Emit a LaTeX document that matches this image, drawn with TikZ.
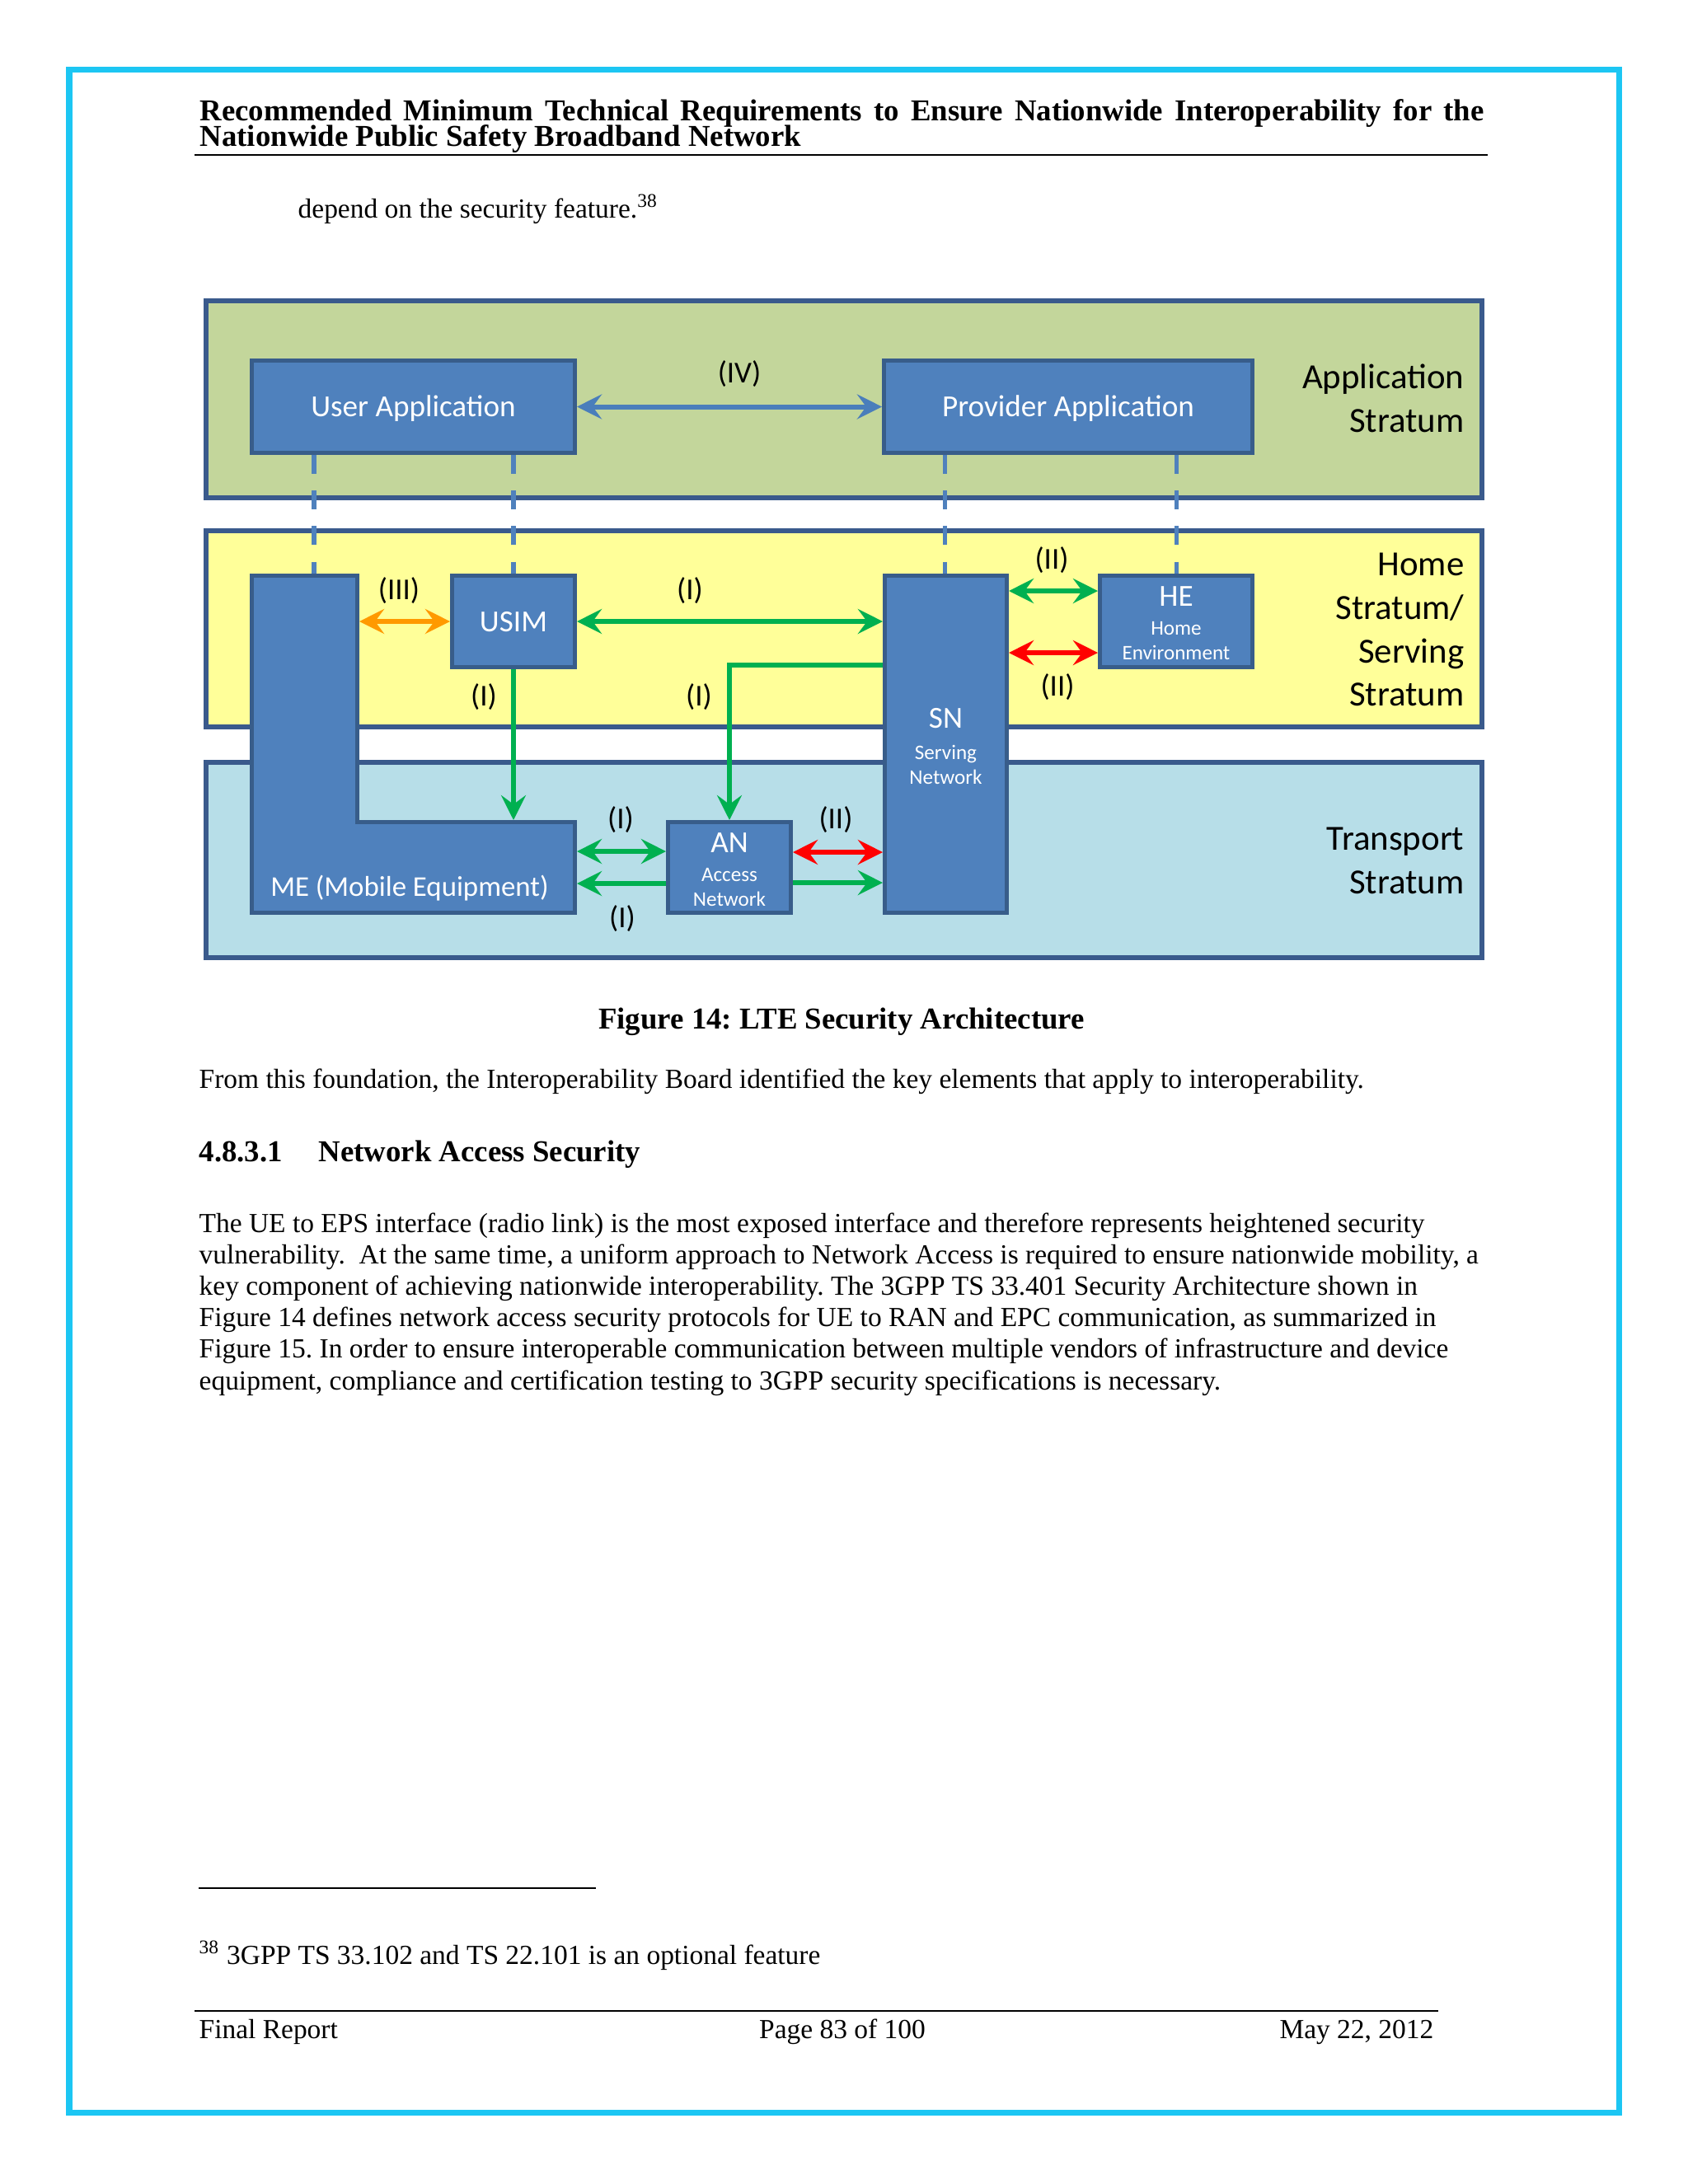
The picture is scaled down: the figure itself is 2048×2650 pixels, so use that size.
\documentclass[tikz,border=0pt]{standalone}
\usepackage{fontspec}
\setmainfont{Liberation Serif}
\newfontfamily\calib{Carlito}
\usetikzlibrary{arrows.meta,fit,calc}
\definecolor{boxfill}{HTML}{4F81BD}
\definecolor{boxborder}{HTML}{385D8A}
\definecolor{panelborder}{HTML}{3A5A8C}
\definecolor{appfill}{HTML}{C3D69B}
\definecolor{homefill}{HTML}{FFFF99}
\definecolor{transfill}{HTML}{B7DEE8}
\definecolor{arrgreen}{HTML}{00B050}
\definecolor{arrred}{HTML}{FF0000}
\definecolor{arrorange}{HTML}{FF9900}
\definecolor{arrblue}{HTML}{4A7EBB}
\definecolor{dashblue}{HTML}{4F81BD}
\definecolor{framecyan}{HTML}{1CC6F3}
\begin{document}
\frenchspacing
\begin{tikzpicture}[x=0.29883pt,y=-0.29883pt,
  >={Stealth[length=9pt,width=9pt,inset=3.3pt]},
  box/.style={draw=boxborder,fill=boxfill,line width=1.5pt,inner sep=0pt},
  boxtxt/.style={text=white,inner sep=0pt,anchor=base,font=\calib\fontsize{11.1}{13}\selectfont},
  boxsm/.style={text=white,inner sep=0pt,anchor=base,font=\calib\fontsize{7.5}{9}\selectfont},
  panel/.style={draw=panelborder,line width=1.8pt,inner sep=0pt},
  ghost/.style={draw=none,inner sep=0pt,outer sep=0.75pt},
  arr/.style={line width=1.8pt},
  dashln/.style={draw=dashblue,line width=1.5pt,dash pattern=on 6.9pt off 6pt},
  lbl/.style={font=\calib\fontsize{11}{13}\selectfont,text=black,inner sep=0pt},
  strat/.style={font=\calib\fontsize{12.8}{15.8}\selectfont,align=right,inner sep=0pt,anchor=east},
  body/.style={font=\fontsize{10}{12}\selectfont,inner sep=0pt,anchor=base west},
  bodyb/.style={font=\bfseries\fontsize{11}{13}\selectfont,inner sep=0pt,anchor=base west},
  foot/.style={font=\fontsize{10}{12}\selectfont,inner sep=0pt}
]
\path[use as bounding box,fill=white] (0,0) rectangle (2048,2650);
\draw[framecyan,line width=2.1pt] (84,84) rectangle (1964,2563);

% header
\node[bodyb] (h1) at (242,146) {\makebox[465.6pt][s]{Recommended Minimum Technical Requirements to Ensure Nationwide Interoperability for the}};
\node[bodyb] (h2) at (242,177) {Nationwide Public Safety Broadband Network};
\draw[line width=0.8pt] (236,188) -- (1805,188);
\node[body] (dep) at (361,264) {depend on the security feature.\textsuperscript{38}};

% panels
\node[panel,fill=appfill,fit={(250,365) (1798,604)}] (appP) {};
\node[panel,fill=homefill,fit={(250,644) (1798,882)}] (homeP) {};
\node[panel,fill=transfill,fit={(250,925) (1798,1162)}] (transP) {};
\node[strat] (appL) at (1777,483) {Application\\Stratum};
\node[strat] (homeL) at (1777,764) {Home\\Stratum/\\Serving\\Stratum};
\node[strat] (transL) at (1777,1044) {Transport\\Stratum};

% ghost anchors for ME
\node[ghost,fit={(305.5,698.5) (433.5,1107.5)}] (mecol) {};
\node[ghost,fit={(305.5,997.5) (697.5,1107.5)}] (mefoot) {};

% upper boxes
\node[box,fit={(305.5,437.5) (697.5,549.5)}] (ua) {};
\node[box,fit={(1072.5,437.5) (1519.5,549.5)}] (pa) {};
\node[boxtxt] (uat) at (501.5,505) {User Application};
\node[boxtxt] (pat) at (1296,505) {Provider Application};

% dashed lines
\draw[dashln] ($(ua.south)+(-120.5,0)$) coordinate (d1) -- (d1 |- mecol.north);
\draw[dashln] ($(ua.south)+(121.5,0)$) coordinate (d2) -- (d2 |- mecol.north);
\draw[dashln] ($(pa.south)+(-149.5,0)$) coordinate (d3) -- (d3 |- mecol.north);
\draw[dashln] ($(pa.south)+(131,0)$) coordinate (d4) -- (d4 |- mecol.north);

% lower boxes
\draw[draw=boxborder,fill=boxfill,line width=1.5pt,line join=miter]
  (305.5,698.5) -- (433.5,698.5) -- (433.5,997.5) -- (697.5,997.5) -- (697.5,1107.5) -- (305.5,1107.5) -- cycle;
\node[boxtxt,font=\calib\fontsize{10.4}{12.5}\selectfont] (metext) at (497,1087) {ME (Mobile Equipment)};
\node[box,fit={(548.5,698.5) (697.5,809.5)}] (usim) {};
\node[boxtxt] (usimt) at (623,766) {USIM};
\node[box,fit={(1073.5,698.5) (1221.5,1107.5)}] (sn) {};
\node[boxtxt] (sn1) at (1147.5,883) {SN};
\node[boxsm] (sn2) at (1147.5,921) {Serving};
\node[boxsm] (sn3) at (1147.5,951) {Network};
\node[box,fit={(1334.5,698.5) (1519.5,809.5)}] (he) {};
\node[boxtxt] (he1) at (1427,735) {HE};
\node[boxsm] (he2) at (1427,770) {Home};
\node[boxsm] (he3) at (1427,800) {Environment};
\node[box,fit={(810.5,997.5) (959.5,1107.5)}] (an) {};
\node[boxtxt] (an1) at (885,1034) {AN};
\node[boxsm] (an2) at (885,1069) {Access};
\node[boxsm] (an3) at (885,1099) {Network};

% arrows
\draw[arr,arrblue,<->] (ua.east) -- (pa.west);
\draw[arr,arrorange,<->] (usim.west -| mecol.east) -- (usim.west);
\draw[arr,arrgreen,<->] (usim.east) -- (usim.east -| sn.west);
\draw[arr,arrgreen,->] (usim.south) -- (usim.south |- mefoot.north);
\draw[arr,arrgreen,->] ($(sn.west)+(0,-96)$) -| (an.north);
\coordinate (anw1) at ($(an.west)+(0,-19.5)$);
\coordinate (anw2) at ($(an.west)+(0,19.5)$);
\coordinate (ane1) at ($(an.east)+(0,-18.5)$);
\coordinate (ane2) at ($(an.east)+(0,18.5)$);
\draw[arr,arrgreen,<->] (anw1 -| mefoot.east) -- (anw1);
\draw[arr,arrgreen,->] (anw2) -- (anw2 -| mefoot.east);
\draw[arr,arrred,<->] (ane1) -- (ane1 -| sn.west);
\draw[arr,arrgreen,->] (ane2) -- (ane2 -| sn.west);
\coordinate (hew1) at ($(he.west)+(0,-37)$);
\coordinate (hew2) at ($(he.west)+(0,38)$);
\draw[arr,arrgreen,<->] (hew1 -| sn.east) -- (hew1);
\draw[arr,arrred,<->] (hew2 -| sn.east) -- (hew2);

% labels
\node[lbl] (l4) at (897,454) {(IV)};
\node[lbl] (l3) at (484,717) {(III)};
\node[lbl] (la) at (837,717) {(I)};
\node[lbl] (lb) at (587,846) {(I)};
\node[lbl] (lc) at (848,846) {(I)};
\node[lbl] (ld) at (1276,680) {(II)};
\node[lbl] (le) at (1283,834) {(II)};
\node[lbl] (lf) at (753,995) {(I)};
\node[lbl] (lg) at (1014,995) {(II)};
\node[lbl] (lh) at (755,1115) {(I)};

% text below
\node[bodyb,anchor=base] (cap) at (1021,1248) {Figure 14: LTE Security Architecture};
\node[body] (p1) at (241,1320) {From this foundation, the Interoperability Board identified the key elements that apply to interoperability.};
\node[bodyb] (secn) at (241,1409) {4.8.3.1};
\node[bodyb] (sect) at (386,1409) {Network Access Security};
\node[body] (b1) at (241,1495) {The UE to EPS interface (radio link) is the most exposed interface and therefore represents heightened security};
\node[body] (b2) at (241,1533.2) {vulnerability.~ At the same time, a uniform approach to Network Access is required to ensure nationwide mobility, a};
\node[body] (b3) at (241,1571.4) {key component of achieving nationwide interoperability. The 3GPP TS 33.401 Security Architecture shown in};
\node[body] (b4) at (241,1609.6) {Figure 14 defines network access security protocols for UE to RAN and EPC communication, as summarized in};
\node[body] (b5) at (241,1647.8) {Figure 15. In order to ensure interoperable communication between multiple vendors of infrastructure and device};
\node[body] (b6) at (241,1686) {equipment, compliance and certification testing to 3GPP security specifications is necessary.};

% footnote and footer
\draw[line width=0.6pt] (241,2291) -- (723,2291);
\node[foot,anchor=base west] (fn) at (241,2383) {\textsuperscript{38} 3GPP TS 33.102 and TS 22.101 is an optional feature};
\draw[line width=0.8pt] (236,2440) -- (1745,2440);
\node[foot,anchor=base west] (f1) at (241,2473) {Final Report};
\node[foot,anchor=base] (f2) at (1022,2473) {Page 83 of 100};
\node[foot,anchor=base east] (f3) at (1740,2473) {May 22, 2012};
\end{tikzpicture}
\end{document}
